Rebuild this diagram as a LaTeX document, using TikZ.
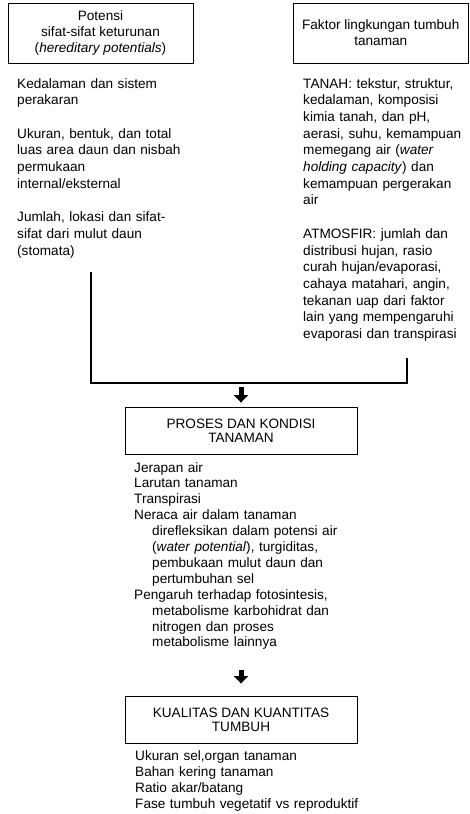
\documentclass[tikz,border=0pt]{standalone}
\usepackage{fontspec}
\setmainfont{Liberation Sans}
\usetikzlibrary{arrows.meta,calc,positioning}
\begin{document}
\begin{tikzpicture}[x=1pt,y=1pt,
  txt/.style={font=\fontsize{13.6}{16.7}\selectfont},
  hd/.style={draw,line width=0.9pt,align=center,inner sep=0pt,txt},
  lst/.style={anchor=base west,align=left,text width=260pt,inner sep=0pt,txt},
  ln/.style={line width=2pt},
  blk/.style={line width=5pt,-{Triangle[width=14pt,length=7.5pt]}}]
\useasboundingbox (0,0) rectangle (470,-814);
\node[hd,minimum width=185pt,minimum height=60pt,font=\fontsize{13.6}{16.3}\selectfont] (pot) at (100.5,-33)
  {Potensi\\sifat-sifat keturunan\\(\textit{hereditary potentials})};
\node[hd,minimum width=175.5pt,minimum height=60pt,font=\fontsize{13.6}{16}\selectfont] (fak) at (380.75,-33)
  {Faktor lingkungan tumbuh\\tanaman};
\node[lst] (pot1) at (17,-88) {Kedalaman dan sistem\\perakaran\\[\baselineskip]
  Ukuran, bentuk, dan total\\luas area daun dan nisbah\\permukaan\\internal/eksternal\\[\baselineskip]
  Jumlah, lokasi dan sifat-\\sifat dari mulut daun\\(stomata)};
\node[lst,text width=166pt] (fak1) at (303,-88) {TANAH: tekstur, struktur,\\kedalaman, komposisi\\kimia tanah, dan pH,\\
  aerasi, suhu, kemampuan\\memegang air (\textit{water}\\\textit{holding capacity}) dan\\
  kemampuan pergerakan\\air\\[\baselineskip]
  ATMOSFIR: jumlah dan\\distribusi hujan, rasio\\curah hujan/evaporasi,\\cahaya matahari, angin,\\
  tekanan uap dari faktor\\lain yang mempengaruhi\\evaporasi dan transpirasi};
\coordinate (lt) at (90.5,-272);
\coordinate (rt) at (407.3,-358.3);
\coordinate (hb) at (0,-383);
\draw[ln] (lt) -- (lt|-hb) -- (rt|-hb) -- (rt);
\node[hd,minimum width=232pt,minimum height=47pt,font=\fontsize{13.6}{14.5}\selectfont] (proc) at (241,-430.8)
  {PROSES DAN KONDISI\\TANAMAN};
\draw[blk] ($(proc.north|-hb)+(0,-4)$) -- ($(proc.north)+(0,4.3)$);
\node[lst,font=\fontsize{13.6}{15.9}\selectfont] (proc1) at (134,-472) {Jerapan air\\Larutan tanaman\\Transpirasi\\
  Neraca air dalam tanaman\\\hspace*{18pt}direfleksikan dalam potensi air\\
  \hspace*{18pt}(\textit{water potential}), turgiditas,\\\hspace*{18pt}pembukaan mulut daun dan\\
  \hspace*{18pt}pertumbuhan sel\\Pengaruh terhadap fotosintesis,\\\hspace*{18pt}metabolisme karbohidrat dan\\
  \hspace*{18pt}nitrogen dan proses\\\hspace*{18pt}metabolisme lainnya};
\node[hd,minimum width=232pt,minimum height=46.6pt,font=\fontsize{13.6}{14}\selectfont] (qual) at (241,-720)
  {KUALITAS DAN KUANTITAS\\TUMBUH};
\draw[blk] ($(qual.north)+(0,26)$) -- ($(qual.north)+(0,12.7)$);
\node[lst,font=\fontsize{13.6}{16}\selectfont] (qual1) at (135,-760.7) {Ukuran sel,organ tanaman\\Bahan kering tanaman\\
  Ratio akar/batang\\Fase tumbuh vegetatif vs reproduktif};
\end{tikzpicture}
\end{document}
